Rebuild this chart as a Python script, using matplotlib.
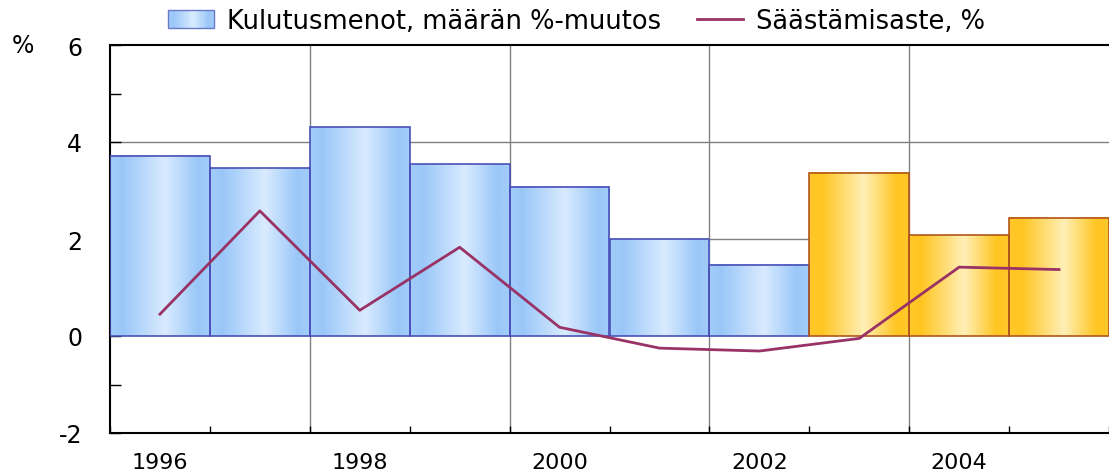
import numpy as np
import matplotlib
matplotlib.use("Agg")
import matplotlib.pyplot as plt
from matplotlib.colors import LinearSegmentedColormap
from matplotlib.patches import Rectangle
from matplotlib.lines import Line2D
from matplotlib.legend_handler import HandlerBase

plt.rcParams['font.family'] = ['DejaVu Sans']
plt.rcParams['axes.unicode_minus'] = False

years = [1996, 1997, 1998, 1999, 2000, 2001, 2002, 2003, 2004, 2005]
consumption = [3.72, 3.46, 4.30, 3.54, 3.08, 1.99, 1.47, 3.37, 2.08, 2.44]
forecast = [False, False, False, False, False, False, False, True, True, True]
saving_rate = [0.45, 2.58, 0.53, 1.83, 0.18, -0.25, -0.31, -0.05, 1.42, 1.37]
year_labels = ['1996', '1998', '2000', '2002', '2004']

bar_label = 'Kulutusmenot, määrän %-muutos'
line_label = 'Säästämisaste, %'

stops = [0.0, 0.12, 0.55, 0.88, 1.0]
blue_cmap = LinearSegmentedColormap.from_list(
    'blue', list(zip(stops, ['#a3cdf8', '#9ac7f8', '#d9ebff', '#9ac7f8', '#a3cdf8'])))
gold_cmap = LinearSegmentedColormap.from_list(
    'gold', list(zip(stops, ['#ffc82a', '#ffc520', '#fff0b8', '#ffc520', '#ffc82a'])))
grad = np.linspace(0, 1, 200).reshape(1, -1)

fig = plt.figure(figsize=(11.09, 4.77), dpi=100)
ax = fig.add_axes([110 / 1109, 43 / 477, 999 / 1109, 388 / 477])

for yr, val, fc in zip(years, consumption, forecast):
    cmap = gold_cmap if fc else blue_cmap
    edge = '#b0561a' if fc else '#4a50b8'
    ax.imshow(grad, extent=[yr, yr + 1, 0, val], aspect='auto', cmap=cmap,
              interpolation='bilinear', zorder=2)
    ax.add_patch(Rectangle((yr, 0), 1, val, fill=False, edgecolor=edge,
                           linewidth=1.2, zorder=3))

centers = [y + 0.5 for y in years]
ax.plot(centers, saving_rate, color='#993366', linewidth=2.0, zorder=4)

for g in [2, 4]:
    ax.axhline(g, color='#808080', linewidth=1.0, zorder=1)
for v in [1998, 2000, 2002, 2004]:
    ax.axvline(v, color='#808080', linewidth=1.0, zorder=1)

ax.set_xlim(1996, 2006)
ax.set_ylim(-2, 6)

ax.set_yticks([-2, 0, 2, 4, 6])
ax.set_yticks([-1, 1, 3, 5], minor=True)
ax.tick_params(axis='y', which='both', direction='in', length=8, width=1,
               labelsize=17, pad=20)
ax.set_xticks(range(1996, 2007))
ax.set_xticklabels([])
ax.set_xticks([1996.5, 1998.5, 2000.5, 2002.5, 2004.5], minor=True)
ax.set_xticklabels(year_labels, minor=True)
ax.tick_params(axis='x', which='major', direction='in', length=5, width=1)
ax.tick_params(axis='x', which='minor', length=0, labelsize=16, pad=14)

for s in ['left', 'bottom', 'top']:
    ax.spines[s].set_linewidth(1.5)
ax.spines['right'].set_visible(False)

fig.text(12 / 1109, 1 - 46 / 477, '%', fontsize=17, ha='left', va='center')


class GradientHandler(HandlerBase):
    def create_artists(self, legend, orig_handle, xdescent, ydescent,
                       width, height, fontsize, trans):
        arts = []
        n = 20
        for i in range(n):
            c = blue_cmap((i + 0.5) / n)
            arts.append(Rectangle((xdescent + width * i / n, -ydescent), width / n,
                                  height, facecolor=c, edgecolor='none', transform=trans))
        arts.append(Rectangle((-xdescent, -ydescent), width, height, fill=False,
                              edgecolor='#6a78c8', linewidth=1, transform=trans))
        return arts


bar_handle = Rectangle((0, 0), 1, 1)
line_handle = Line2D([], [], color='#993366', linewidth=2.0)
fig.legend([bar_handle, line_handle], [bar_label, line_label],
           handler_map={Rectangle: GradientHandler()},
           loc='upper center', bbox_to_anchor=(0.52, 1.03), ncol=2, frameon=False,
           fontsize=18.5, handlelength=1.8, handleheight=0.7, columnspacing=1.4,
           handletextpad=0.5)

fig.savefig('out.png', dpi=100)
